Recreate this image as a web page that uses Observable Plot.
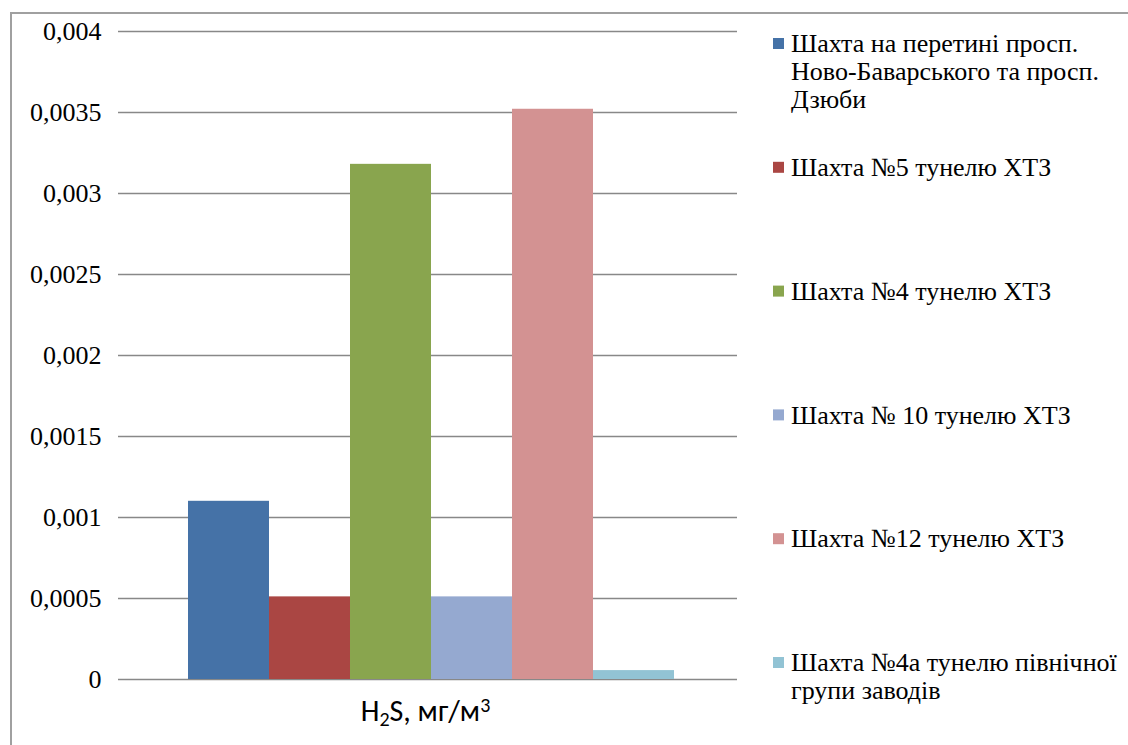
<!DOCTYPE html>
<html>
<head>
<meta charset="utf-8">
<script src="https://cdn.jsdelivr.net/npm/d3@7"></script>
<script src="https://cdn.jsdelivr.net/npm/@observablehq/plot@0.6"></script>
<style>
  html, body { margin: 0; padding: 0; background: #fff; }
  #wrap { position: relative; width: 1128px; height: 745px; overflow: hidden; }
  #border { position: absolute; left: 10px; top: 12px; width: 1200px; height: 800px;
            border-left: 2px solid #a0a0a0; border-top: 2px solid #a0a0a0; box-sizing: border-box; }
  #chart { position: absolute; left: 0; top: 0; }
  #legend { position: absolute; left: 760px; top: 0; }
</style>
</head>
<body>
<div id="wrap">
  <div id="border"></div>
  <div id="chart"></div>
  <div id="legend"></div>
</div>
<script>
// Measured H2S concentrations, mg/m3, one value per ventilation shaft
const categories = ["H\u2082S, мг/м\u00b3"];
const series = [
  "Шахта на перетині просп.\nНово-Баварського та просп.\nДзюби",
  "Шахта №5 тунелю ХТЗ",
  "Шахта №4 тунелю ХТЗ",
  "Шахта № 10 тунелю ХТЗ",
  "Шахта №12 тунелю ХТЗ",
  "Шахта №4а тунелю північної\nгрупи заводів"
];
const values = [0.0011, 0.00051, 0.00318, 0.00051, 0.00352, 0.000055];
const colors = ["#4572a7", "#aa4643", "#89a54e", "#95a9d0", "#d39292", "#92c3d4"];
const yTicks = [0, 0.0005, 0.001, 0.0015, 0.002, 0.0025, 0.003, 0.0035, 0.004];

const rows = series.map((s, i) => ({cat: categories[0], series: s, value: values[i]}));
const fmt = d => String(d).replace(".", ",");
const serif = "'Liberation Serif', serif";
const sans = "Carlito, Lato, sans-serif";

const chart = Plot.plot({
  width: 760,
  height: 745,
  marginLeft: 125,
  marginRight: 23,
  marginTop: 31,
  marginBottom: 66,
  style: {background: "transparent", color: "#000"},
  fx: {domain: categories, padding: 0, label: null},
  x: {domain: series, paddingInner: 0, paddingOuter: 0.74, axis: null},
  y: {domain: [0, 0.004], ticks: yTicks, label: null},
  color: {domain: series, range: colors},
  marks: [
    Plot.gridY(yTicks, {stroke: "#888", strokeOpacity: 1, strokeWidth: 1.5}),
    Plot.barY(rows, {fx: "cat", x: "series", y: "value", fill: "series", inset: 0}),
    Plot.ruleX([0], {frameAnchor: "left", stroke: "#888", strokeWidth: 1.5}),
    Plot.axisY(yTicks, {tickSize: 7, tickPadding: 17, stroke: "#888", strokeWidth: 1.5,
                        tickFormat: fmt, fill: "#000", fontSize: 26, fontFamily: serif, label: null}),
    Plot.axisFx({anchor: "bottom", tickSize: 0, tickPadding: 20, dx: -6, label: null,
                 fontFamily: sans, fontSize: 30, fill: "#000"})
  ]
});
document.getElementById("chart").appendChild(chart);

// Tick labels in the serif face; the category label gets a true subscript and superscript
chart.querySelectorAll("[aria-label='y-axis tick label'] text").forEach(t => {
  t.style.fontFamily = serif;
  t.style.fontSize = "26px";
});
chart.querySelectorAll("[aria-label='fx-axis tick label'] text").forEach(t => {
  t.style.fontFamily = sans;
  t.style.fontSize = "30px";
  const parts = t.textContent.split(/([\u2082\u00b3])/);
  t.textContent = "";
  parts.forEach(p => {
    const ts = document.createElementNS("http://www.w3.org/2000/svg", "tspan");
    if (p === "\u2082") { ts.textContent = "2"; ts.setAttribute("font-size", "20"); ts.setAttribute("baseline-shift", "-25%"); }
    else if (p === "\u00b3") { ts.textContent = "3"; ts.setAttribute("font-size", "20"); ts.setAttribute("baseline-shift", "45%"); }
    else ts.textContent = p;
    t.appendChild(ts);
  });
});

// Legend: swatch + serif label per series, stacked down the right side
const lineH = 28;
const legendSvg = d3.create("svg")
  .attr("width", 368)
  .attr("height", 745)
  .style("display", "block");
const items = legendSvg.selectAll("g")
  .data(series)
  .join("g")
  .attr("transform", (d, i) => `translate(0, ${43.5 + i * 123.8})`);
items.append("rect")
  .attr("x", 13)
  .attr("y", -5.5)
  .attr("width", 11)
  .attr("height", 11)
  .attr("fill", (d, i) => colors[i]);
items.append("text")
  .attr("x", 31)
  .attr("y", 8.6)
  .style("font-family", serif)
  .style("font-size", "26px")
  .attr("fill", "#000")
  .selectAll("tspan")
  .data(d => d.split("\n"))
  .join("tspan")
  .attr("x", 31)
  .attr("dy", (d, j) => j === 0 ? 0 : lineH)
  .text(d => d);
document.getElementById("legend").appendChild(legendSvg.node());
</script>
</body>
</html>
